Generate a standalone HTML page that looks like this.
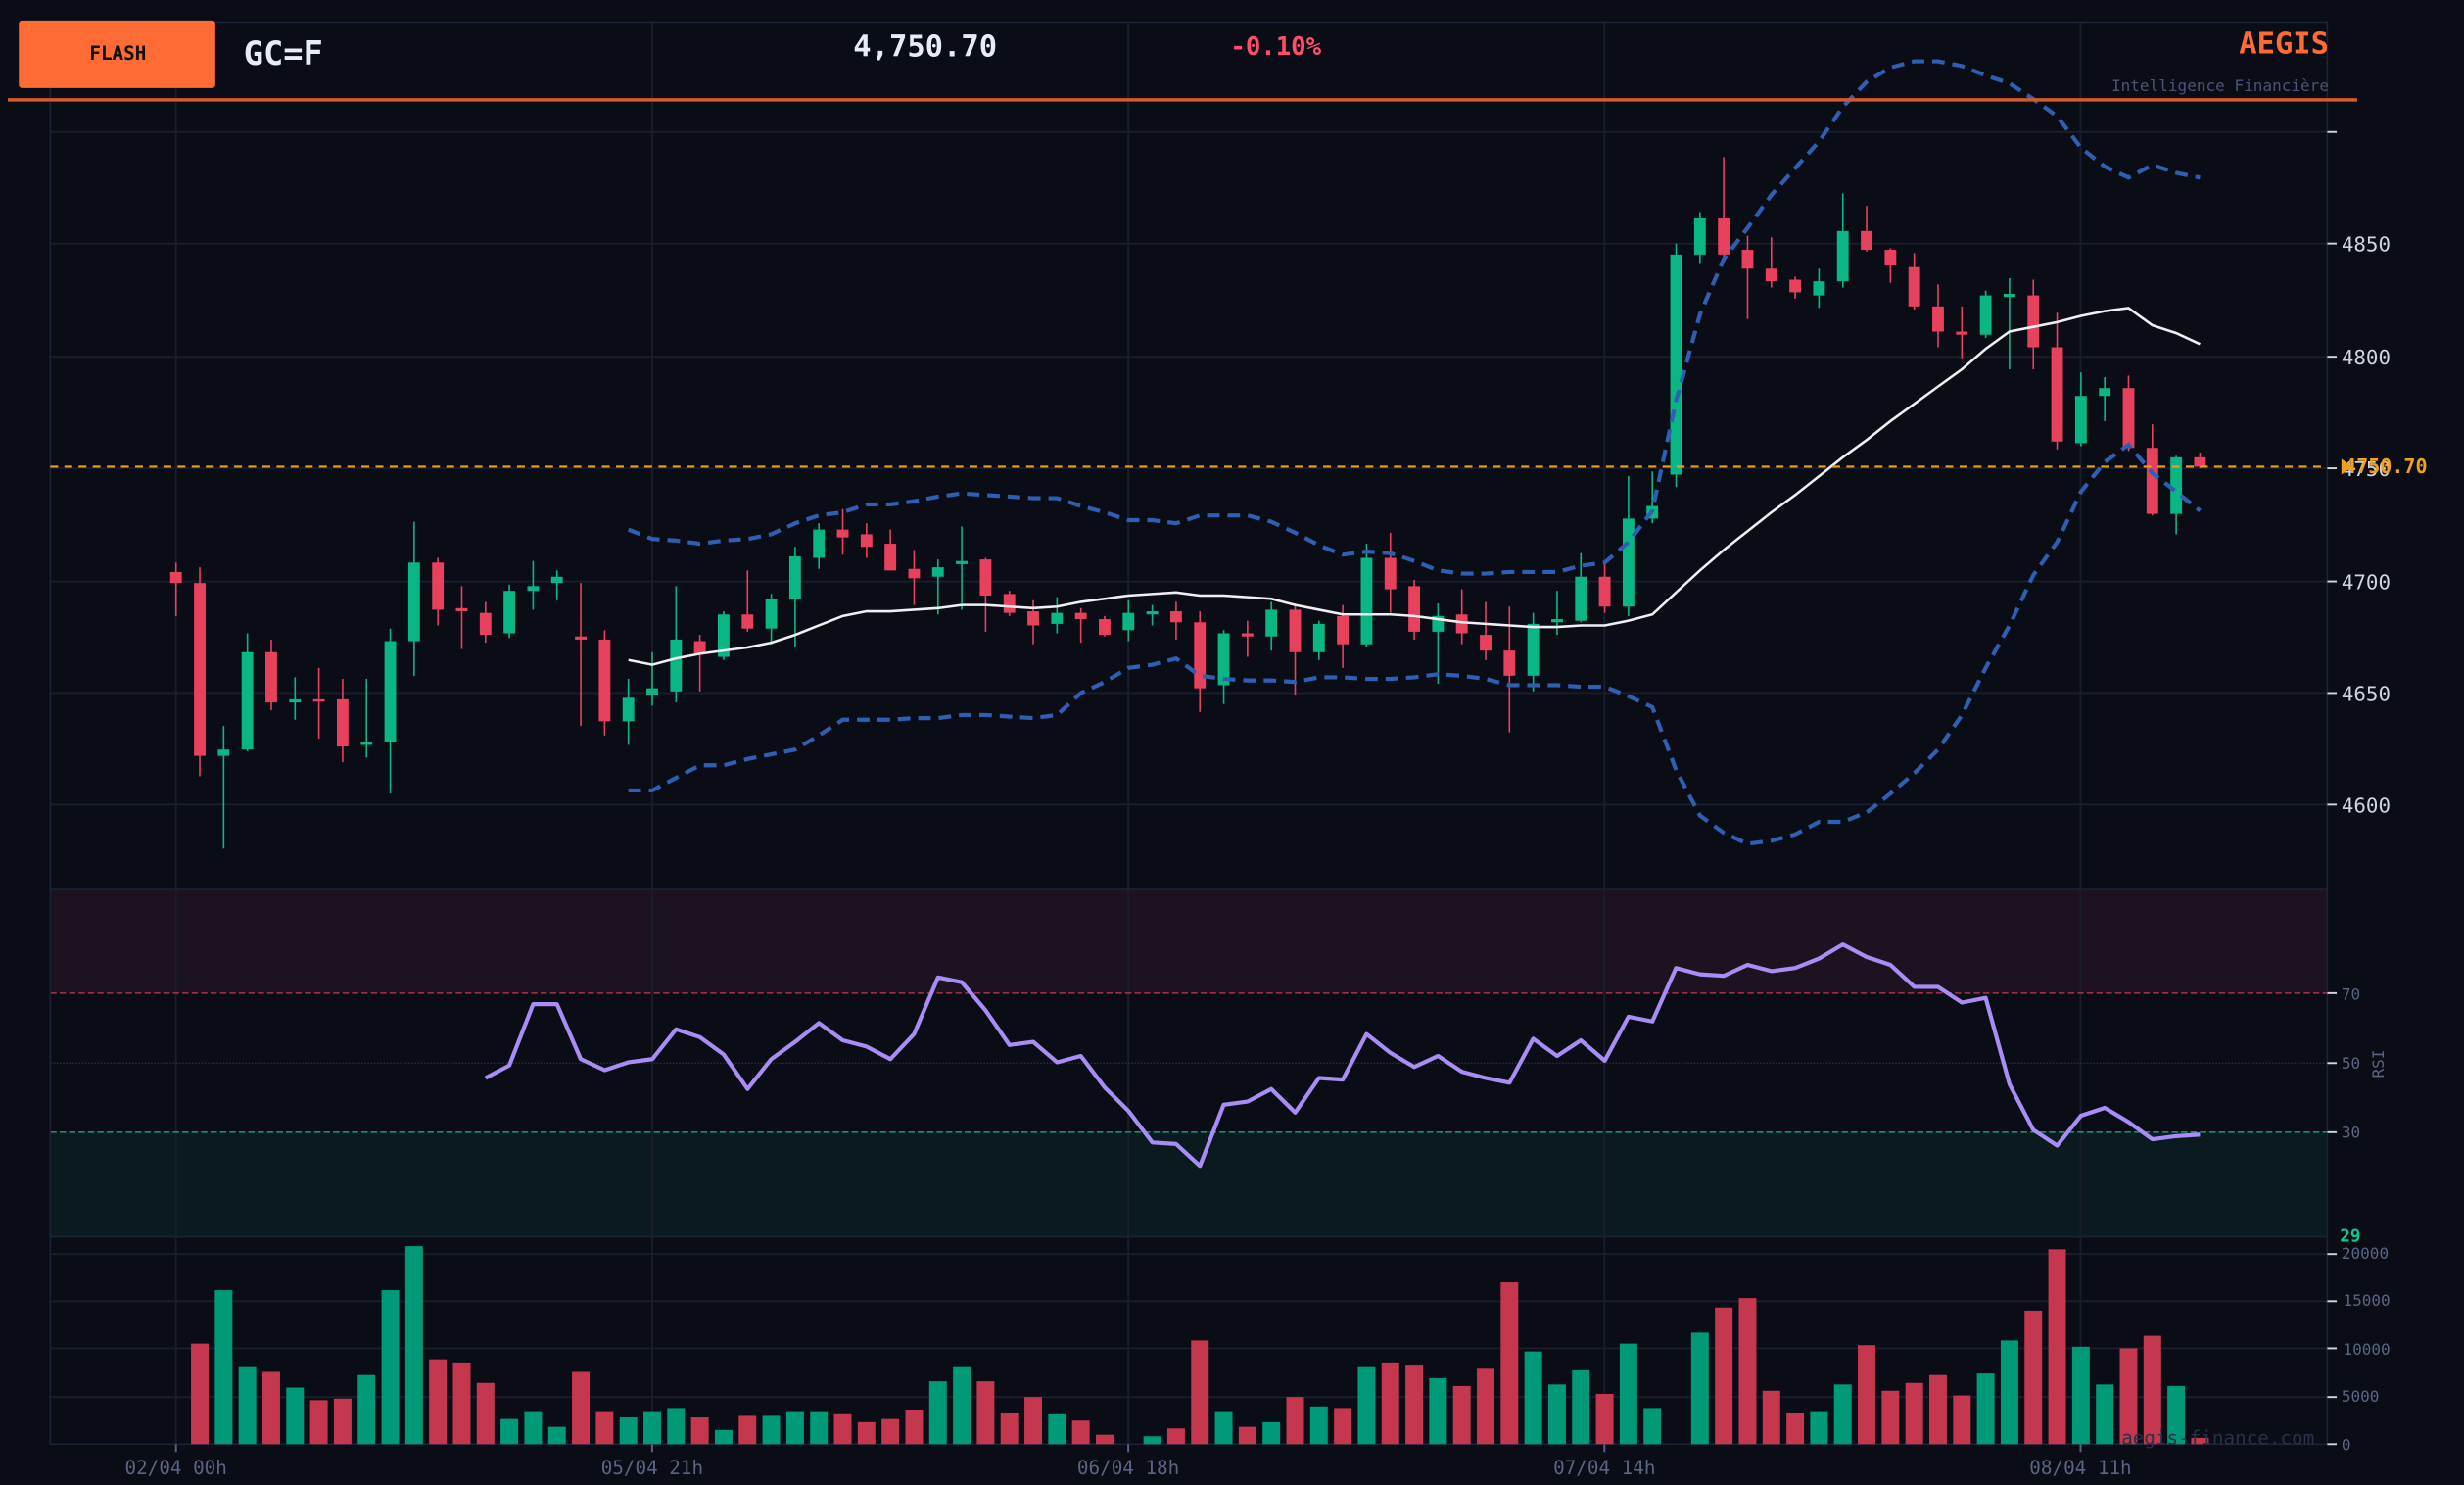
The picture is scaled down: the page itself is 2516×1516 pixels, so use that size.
<!DOCTYPE html>
<html><head><meta charset="utf-8"><style>
html,body{margin:0;padding:0;background:#0b0d16;width:2516px;height:1516px;overflow:hidden}
svg{display:block}
text{font-family:"DejaVu Sans Mono","Liberation Mono",monospace}
</style></head><body>
<svg id="s" width="2516" height="1516" viewBox="0 0 1568 945" preserveAspectRatio="none" xmlns="http://www.w3.org/2000/svg">
<rect width="1568" height="945" fill="#0b0d16"/>
<rect x="32" y="566" width="1449" height="66" fill="#1d1220"/>
<rect x="32" y="720" width="1449" height="67" fill="#0a1a1f"/>
<g stroke="#1a1d2c" stroke-width="1.2">
<line x1="112" y1="14" x2="112" y2="919"/><line x1="415" y1="14" x2="415" y2="919"/><line x1="718" y1="14" x2="718" y2="919"/><line x1="1021" y1="14" x2="1021" y2="919"/><line x1="1324" y1="14" x2="1324" y2="919"/>
<line x1="32" y1="84" x2="1481" y2="84"/><line x1="32" y1="155" x2="1481" y2="155"/><line x1="32" y1="227" x2="1481" y2="227"/><line x1="32" y1="298" x2="1481" y2="298"/><line x1="32" y1="370" x2="1481" y2="370"/><line x1="32" y1="441" x2="1481" y2="441"/><line x1="32" y1="512" x2="1481" y2="512"/>
<line x1="32" y1="798" x2="1481" y2="798"/><line x1="32" y1="828" x2="1481" y2="828"/><line x1="32" y1="858" x2="1481" y2="858"/><line x1="32" y1="889" x2="1481" y2="889"/>
</g>
<line x1="32" y1="676.5" x2="1481" y2="676.5" stroke="#2a2e40" stroke-width="0.8" stroke-dasharray="1,1"/>
<line x1="32" y1="632" x2="1481" y2="632" stroke="#b03048" stroke-width="1" stroke-dasharray="4,2"/>
<line x1="32" y1="720.5" x2="1481" y2="720.5" stroke="#159078" stroke-width="1" stroke-dasharray="4,2"/>
<rect x="32" y="14" width="1449" height="905" fill="none" stroke="#1c2238" stroke-width="1"/>
<line x1="32" y1="566" x2="1481" y2="566" stroke="#1c2238"/><line x1="32" y1="787" x2="1481" y2="787" stroke="#1c2238"/>
<g id="vol"></g><g id="cand"></g><g id="lines"></g>
<line x1="32" y1="297" x2="1481" y2="297" stroke="#f0a020" stroke-width="1.3" stroke-dasharray="5,4"/>
<rect x="0" y="0" width="1568" height="13" fill="#0b0d16"/>
<line x1="5" y1="63.5" x2="1500" y2="63.5" stroke="#d9582a" stroke-width="2.2"/>
<rect x="12" y="13" width="125" height="43" rx="2" fill="#ff6b35"/>
<text x="75" y="38" font-size="12" font-weight="bold" fill="#111" text-anchor="middle">FLASH</text>
<text x="155" y="41" font-size="21" font-weight="bold" fill="#e8ecf4">GC=F</text>
<text x="543" y="36" font-size="19" font-weight="bold" fill="#e8ecf4">4,750.70</text>
<text x="783" y="35" font-size="16" font-weight="bold" fill="#ff4d6a">-0.10%</text>
<text x="1482" y="34" font-size="19" font-weight="bold" fill="#ff6b35" text-anchor="end">AEGIS</text>
<text x="1482" y="58" font-size="10" fill="#4a5575" text-anchor="end">Intelligence Financière</text>
<g font-size="13" fill="#d0d4e0">
<text x="1490" y="160">4850</text><text x="1490" y="232">4800</text><text x="1490" y="303">4750</text><text x="1490" y="375">4700</text><text x="1490" y="446">4650</text><text x="1490" y="517">4600</text>
</g>
<g stroke="#d0d4e0" stroke-width="1.2"><line x1="1481" y1="84" x2="1487" y2="84"/><line x1="1481" y1="155" x2="1487" y2="155"/><line x1="1481" y1="227" x2="1487" y2="227"/><line x1="1481" y1="298" x2="1487" y2="298"/><line x1="1481" y1="370" x2="1487" y2="370"/><line x1="1481" y1="441" x2="1487" y2="441"/><line x1="1481" y1="512" x2="1487" y2="512"/>
<line x1="1481" y1="632" x2="1487" y2="632"/><line x1="1481" y1="676.5" x2="1487" y2="676.5"/><line x1="1481" y1="720.5" x2="1487" y2="720.5"/>
<line x1="1481" y1="798" x2="1487" y2="798"/><line x1="1481" y1="828" x2="1487" y2="828"/><line x1="1481" y1="858" x2="1487" y2="858"/><line x1="1481" y1="889" x2="1487" y2="889"/><line x1="1481" y1="919" x2="1487" y2="919"/></g>
<polygon points="1490,292 1497,297 1490,302" fill="#f0a020"/>
<text x="1492" y="301" font-size="12.5" font-weight="bold" fill="#f0a020">4750.70</text>
<g font-size="10" fill="#5a6485">
<text x="1490" y="636">70</text><text x="1490" y="680">50</text><text x="1490" y="724">30</text>
<text x="1490" y="801">20000</text><text x="1491" y="831">15000</text><text x="1491" y="862">10000</text><text x="1490" y="892">5000</text><text x="1490" y="923">0</text>
<text transform="translate(1517,677) rotate(-90)" text-anchor="middle">RSI</text>
</g>
<text x="1489" y="790" font-size="11" font-weight="bold" fill="#10c890">29</text>
<text x="1350" y="919" font-size="12" fill="#2a3048">aegis-finance.com</text>
<g font-size="12" fill="#5a6485" text-anchor="middle">
<text x="112" y="938">02/04 00h</text><text x="415" y="938">05/04 21h</text><text x="718" y="938">06/04 18h</text><text x="1021" y="938">07/04 14h</text><text x="1324" y="938">08/04 11h</text>
</g>
<g stroke="#5a6485" stroke-width="1.2"><line x1="112" y1="919" x2="112" y2="924"/><line x1="415" y1="919" x2="415" y2="924"/><line x1="718" y1="919" x2="718" y2="924"/><line x1="1021" y1="919" x2="1021" y2="924"/><line x1="1324" y1="919" x2="1324" y2="924"/></g>
</svg>
<script>
var C=[[364,371,358,392,0],[371,481,361,494,0],[477,481,462,540,1],[415,477,403,478,1],[415,447,407,452,0],[445,447,431,458,1],[445,446,425,470,0],[445,475,432,485,0],[472,474,432,482,1],[408,472,400,505,1],[358,408,332,430,1],[358,388,355,398,0],[387,389,373,413,0],[390,404,383,409,0],[376,403,372,406,1],[373,376,357,388,1],[367,371,363,382,1],[405,407,371,462,0],[407,459,401,468,0],[444,459,432,474,1],[438,442,415,449,1],[407,440,373,447,1],[408,416,404,440,0],[391,418,389,420,1],[391,400,363,402,0],[381,400,378,410,1],[354,381,348,412,1],[337,355,333,362,1],[337,342,324,353,0],[340,348,333,355,0],[346,363,337,363,0],[362,368,350,385,0],[361,367,356,391,1],[357,359,335,388,1],[356,379,355,402,0],[378,390,376,392,0],[389,398,382,410,0],[390,397,380,403,1],[390,394,387,409,0],[394,404,392,405,0],[390,401,382,408,1],[389,391,385,398,1],[389,396,383,407,0],[396,438,389,453,0],[403,436,401,448,1],[403,405,395,418,0],[388,405,383,414,1],[388,415,384,442,0],[397,415,395,420,1],[392,410,385,425,0],[355,410,346,412,1],[355,375,339,390,0],[373,402,369,407,0],[392,402,384,435,1],[391,403,375,410,0],[404,414,383,420,0],[414,430,386,466,0],[397,430,390,440,1],[394,396,376,404,1],[367,395,352,396,1],[367,386,358,390,0],[330,386,303,392,1],[322,330,300,333,1],[162,302,155,310,1],[139,162,135,168,1],[139,162,100,164,0],[159,171,150,203,0],[171,179,151,183,0],[178,186,176,190,0],[179,188,171,196,1],[147,179,123,183,1],[147,159,131,160,0],[159,169,158,180,0],[170,195,161,197,0],[195,211,181,221,0],[211,213,195,228,0],[188,213,185,215,1],[187,189,177,235,1],[188,221,178,235,0],[221,281,199,286,0],[252,282,237,284,1],[247,252,240,268,1],[247,285,239,287,0],[285,327,270,328,0],[291,327,290,340,1],[291,297,288,298,0]];
var V=[919,855,821,870,873,883,891,890,875,821,793,865,867,880,903,898,908,873,898,902,898,896,902,910,901,901,898,898,900,905,903,897,879,870,879,899,889,900,904,913,919,914,909,853,898,908,905,889,895,896,870,867,869,877,882,871,816,860,881,872,887,855,896,919,848,832,826,885,899,898,881,856,885,880,875,888,874,853,834,795,857,881,858,850,882,915];
var X=function(i){return 112+i*15.153};
var ns="http://www.w3.org/2000/svg";
function el(p,t,a){var e=document.createElementNS(ns,t);for(var k in a)e.setAttribute(k,a[k]);document.getElementById(p).appendChild(e);}
C.forEach(function(c,i){var x=X(i),col=c[4]?"#0ab784":"#e8415d";
el("cand","line",{x1:x,x2:x,y1:c[2],y2:c[3],stroke:col,"stroke-width":1});
el("cand","rect",{x:x-3.7,y:c[0],width:7.4,height:Math.max(1.5,c[1]-c[0]),fill:col});
if(V[i]<918)el("vol","rect",{x:x-5.6,y:V[i],width:11.2,height:919-V[i],fill:c[4]?"#009a78":"#c4374f"});});
function pl(ys,start,attrs){var p=[];ys.forEach(function(y,j){p.push(X(start+j).toFixed(1)+","+y)});attrs.points=p.join(" ");attrs.fill="none";el("lines","polyline",attrs);}
var up=[337,343,344,346,344,343,340,333,328,326,321,321,319,316,314,315,316,317,317,322,326,331,331,333,328,328,328,332,339,347,353,351,352,357,363,365,365,364,364,364,360,358,345,325,255,200,165,145,124,107,90,68,52,43,39,39,42,48,53,63,74,94,106,113,105,110,113];
var lo=[503,503,495,487,487,483,480,477,468,458,458,458,457,457,455,455,456,457,455,441,434,425,423,419,430,432,433,433,434,431,431,432,432,431,429,430,432,436,436,436,437,437,443,450,490,519,530,537,535,531,523,523,517,505,492,477,455,425,398,366,345,313,294,283,301,313,325];
var ma=[420,423,419,416,414,412,409,404,398,392,389,389,388,387,385,385,386,387,386,383,381,379,378,377,379,379,380,381,385,388,391,391,391,392,394,396,397,398,399,399,398,398,395,391,377,363,350,338,326,315,303,291,280,268,257,246,235,222,211,208,205,201,198,196,207,212,219];
var rsi=[686,678,639,639,674,681,676,674,655,660,671,693,674,663,651,662,666,674,658,622,625,643,665,663,676,672,692,707,727,728,742,703,701,693,708,686,687,658,670,679,672,682,686,689,661,672,662,675,647,650,616,620,621,614,618,616,610,601,609,614,628,628,638,635,690,719,729,710,705,714,725,723,722];
pl(up,19,{stroke:"#2f5fb3","stroke-width":2.6,"stroke-dasharray":"8,5"});
pl(lo,19,{stroke:"#2f5fb3","stroke-width":2.6,"stroke-dasharray":"8,5"});
pl(ma,19,{stroke:"#f0f0f4","stroke-width":1.6});
pl(rsi,13,{stroke:"#a98cf5","stroke-width":2.6,"stroke-linejoin":"round"});
</script>
</body></html>
